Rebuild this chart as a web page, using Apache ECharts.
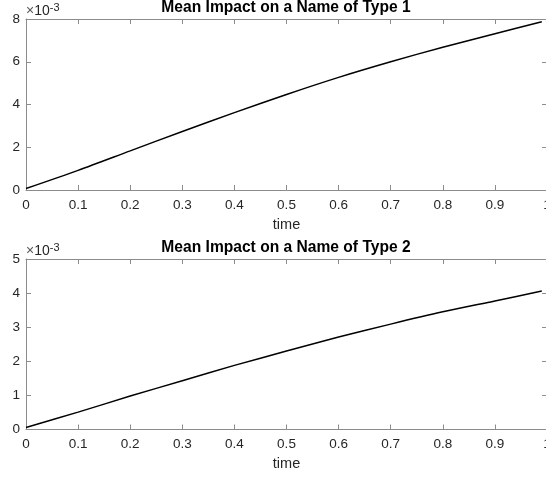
<!DOCTYPE html>
<html>
<head>
<meta charset="utf-8">
<script src="https://cdn.jsdelivr.net/npm/echarts@6/dist/echarts.min.js"></script>
<style>
html,body{margin:0;padding:0;background:#fff;}
#c{width:546px;height:479px;}
</style>
</head>
<body>
<div id="c"></div>
<script>
// time samples
var timeValues = [0, 0.1, 0.2, 0.3, 0.4, 0.5, 0.6, 0.7, 0.8, 0.9, 0.99];
// Mean impact on a name of type 1 (actual values)
var impactType1 = [0.07e-3, 0.92e-3, 1.83e-3, 2.74e-3, 3.62e-3, 4.47e-3, 5.27e-3, 6.00e-3, 6.68e-3, 7.31e-3, 7.87e-3];
// Mean impact on a name of type 2 (actual values)
var impactType2 = [0.06e-3, 0.51e-3, 0.98e-3, 1.43e-3, 1.88e-3, 2.30e-3, 2.71e-3, 3.09e-3, 3.45e-3, 3.77e-3, 4.06e-3];
var titles = ['Mean Impact on a Name of Type 1', 'Mean Impact on a Name of Type 2'];
var xTickLabels = ['0', '0.1', '0.2', '0.3', '0.4', '0.5', '0.6', '0.7', '0.8', '0.9', '1'];
var yMax = [0.008, 0.005];
var yInterval = [0.002, 0.001];
var xLabel = 'time';

var FONT = '"Liberation Sans", Arial, Helvetica, sans-serif';
var TEXT = '#262626';
var AXIS = '#8c8c8c';

function pairs(xs, ys) { return xs.map(function (x, i) { return [x, ys[i]]; }); }

var grids = [
  { left: 26, right: -1, top: 19, height: 171, outerBoundsMode: 'none', containLabel: false },
  { left: 26, right: -1, top: 259, height: 170.5, outerBoundsMode: 'none', containLabel: false }
];

var xAxes = [], yAxes = [], series = [], titleArr = [];
[impactType1, impactType2].forEach(function (vals, k) {
  // bottom x axis
  xAxes.push({
    type: 'value', gridIndex: k, min: 0, max: 1, interval: 0.1, position: 'bottom',
    name: xLabel, nameLocation: 'middle', nameGap: 27,
    nameTextStyle: { fontFamily: FONT, fontSize: 14.5, color: TEXT },
    axisLine: { show: true, onZero: false, lineStyle: { color: AXIS, width: 1 } },
    axisTick: { show: true, inside: true, length: 5, lineStyle: { color: AXIS } },
    axisLabel: { fontFamily: FONT, fontSize: 13.5, color: TEXT, margin: 8,
      formatter: function (v) { return xTickLabels[Math.round(v * 10)]; } },
    splitLine: { show: false }
  });
  // top mirror axis
  xAxes.push({
    type: 'value', gridIndex: k, min: 0, max: 1, interval: 0.1, position: 'top',
    axisLine: { show: true, onZero: false, lineStyle: { color: AXIS, width: 1 } },
    axisTick: { show: true, inside: true, length: 5, lineStyle: { color: AXIS } },
    axisLabel: { show: false }, splitLine: { show: false }
  });
  yAxes.push({
    type: 'value', gridIndex: k, min: 0, max: yMax[k], interval: yInterval[k], position: 'left',
    name: '{a|×}{b|10}{c|-3}', nameLocation: 'end', nameGap: 1,
    nameTextStyle: { align: 'left', verticalAlign: 'bottom', padding: [0, 0, 0, 0],
      rich: {
        a: { fontFamily: FONT, fontSize: 14, color: '#555', lineHeight: 16, padding: [3, 0, 0, 0], verticalAlign: 'bottom' },
        b: { fontFamily: FONT, fontSize: 14, color: TEXT, lineHeight: 16, padding: [3, 0, 0, 0], verticalAlign: 'bottom' },
        c: { fontFamily: FONT, fontSize: 11, color: TEXT, lineHeight: 10, verticalAlign: 'top' }
      } },
    axisLine: { show: true, onZero: false, lineStyle: { color: AXIS, width: 1 } },
    axisTick: { show: true, inside: true, length: 5, lineStyle: { color: AXIS } },
    axisLabel: { fontFamily: FONT, fontSize: 13.5, color: TEXT, margin: 6,
      formatter: function (v) { return String(Math.round(v * 1000)); } },
    splitLine: { show: false }
  });
  yAxes.push({
    type: 'value', gridIndex: k, min: 0, max: yMax[k], interval: yInterval[k], position: 'right',
    axisLine: { show: true, onZero: false, lineStyle: { color: AXIS, width: 1 } },
    axisTick: { show: true, inside: true, length: 5, lineStyle: { color: AXIS } },
    axisLabel: { show: false }, splitLine: { show: false }
  });
  series.push({
    type: 'line', xAxisIndex: 2 * k, yAxisIndex: 2 * k,
    data: pairs(timeValues, vals), showSymbol: false, symbol: 'none',
    smooth: 0.3,
    lineStyle: { color: '#000', width: 1.5 }, silent: true, animation: false
  });
  titleArr.push({
    text: titles[k], left: 286, textAlign: 'center', top: k === 0 ? 0 : 240, padding: 0,
    textStyle: { fontFamily: FONT, fontSize: 15.6, fontWeight: 'bold', color: '#000' }
  });
});

var chart = echarts.init(document.getElementById('c'), null, { renderer: 'canvas' });
chart.setOption({
  animation: false,
  backgroundColor: '#fff',
  title: titleArr,
  grid: grids,
  xAxis: xAxes,
  yAxis: yAxes,
  series: series
});
</script>
</body>
</html>
